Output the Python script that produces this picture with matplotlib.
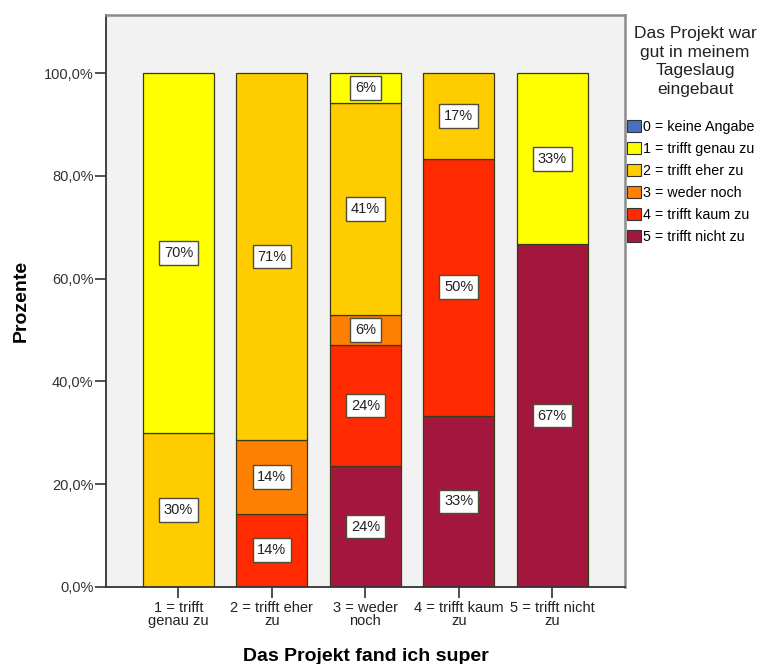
import numpy as np
import matplotlib
matplotlib.use('Agg')
import matplotlib.pyplot as plt
from matplotlib.patches import Patch
from matplotlib.ticker import FuncFormatter

plt.rcParams['font.family'] = ['Liberation Sans', 'DejaVu Sans']

# Kategorien (x-Achse) und Anteile je Antwort in Prozent
categories = ["1 = trifft\ngenau zu", "2 = trifft eher\nzu", "3 = weder\nnoch",
              "4 = trifft kaum\nzu", "5 = trifft nicht\nzu"]
series_names = ["0 = keine Angabe", "1 = trifft genau zu", "2 = trifft eher zu",
                "3 = weder noch", "4 = trifft kaum zu", "5 = trifft nicht zu"]
keine_angabe = [0, 0, 0, 0, 0]
genau_zu = [70.0, 0, 5.88, 0, 33.33]
eher_zu = [30.0, 71.42, 41.18, 16.67, 0]
weder_noch = [0, 14.29, 5.88, 0, 0]
kaum_zu = [0, 14.29, 23.53, 50.0, 0]
nicht_zu = [0, 0, 23.53, 33.33, 66.67]
series = [keine_angabe, genau_zu, eher_zu, weder_noch, kaum_zu, nicht_zu]
colors = ['#4a6fc2', '#ffff00', '#ffcc00', '#ff7f00', '#ff2a00', '#a3173f']

W, H = 762, 664
fig = plt.figure(figsize=(W / 100, H / 100), dpi=100)
ax = fig.add_axes([106 / W, 1 - 587 / H, (625 - 106) / W, (587 - 15) / H])
ax.set_facecolor('#f2f2f2')

x = np.arange(len(categories))
bottom = np.zeros(len(categories))
# von unten nach oben: 5, 4, 3, 2, 1, 0
for vals, col in zip(series[::-1], colors[::-1]):
    vals = np.array(vals, dtype=float)
    for i in range(len(x)):
        if vals[i] <= 0:
            continue
        ax.bar(x[i], vals[i], bottom=bottom[i], width=0.76, color=col,
               edgecolor='#3a3a1a', linewidth=0.9)
        ax.text(x[i], bottom[i] + vals[i] / 2, f'{vals[i]:.0f}%', ha='center', va='center',
                fontsize=10.5, color='#222222',
                bbox=dict(boxstyle='square,pad=0.33', fc='white', ec='#4d4d3a', lw=1.0))
    bottom += vals

ax.set_xlim(-0.776, 4.78)
ax.set_ylim(0, 111.3)
ax.set_yticks([0, 20, 40, 60, 80, 100])
ax.yaxis.set_major_formatter(FuncFormatter(lambda v, p: f'{v:.1f}%'.replace('.', ',')))
ax.set_xticks(x)
ax.set_xticklabels(categories, fontsize=10.5, linespacing=0.95)
ax.tick_params(axis='y', labelsize=10.5, length=8, width=1.2, color='#333333',
               labelcolor='#333333', pad=1)
ax.tick_params(axis='x', length=8, width=1.2, color='#333333', labelcolor='#222222', pad=2)

for s in ['left', 'bottom']:
    ax.spines[s].set_color('#333333')
    ax.spines[s].set_linewidth(1.3)
for s in ['top', 'right']:
    ax.spines[s].set_color('#8c8c8c')
    ax.spines[s].set_linewidth(1.8)

ax.set_ylabel('Prozente', fontsize=14, fontweight='bold', labelpad=10)
ax.set_xlabel('Das Projekt fand ich super', fontsize=14, fontweight='bold', labelpad=14)

# Legendentitel und Legende rechts neben dem Diagramm
fig.text(695 / W, 1 - 26 / H, 'Das Projekt war\ngut in meinem\nTageslaug\neingebaut',
         ha='center', va='top', fontsize=12.5, linespacing=1.3, color='#222222')
handles = [Patch(facecolor=c, edgecolor='#333333', linewidth=0.8) for c in colors]
fig.legend(handles, series_names, loc='upper left', bbox_to_anchor=(627 / W, 1 - 120 / H),
           frameon=False, fontsize=10.3, handlelength=0.95, handleheight=0.95,
           handletextpad=0.2, labelspacing=0.55, borderaxespad=0, borderpad=0)

fig.savefig('out.png', dpi=100)
